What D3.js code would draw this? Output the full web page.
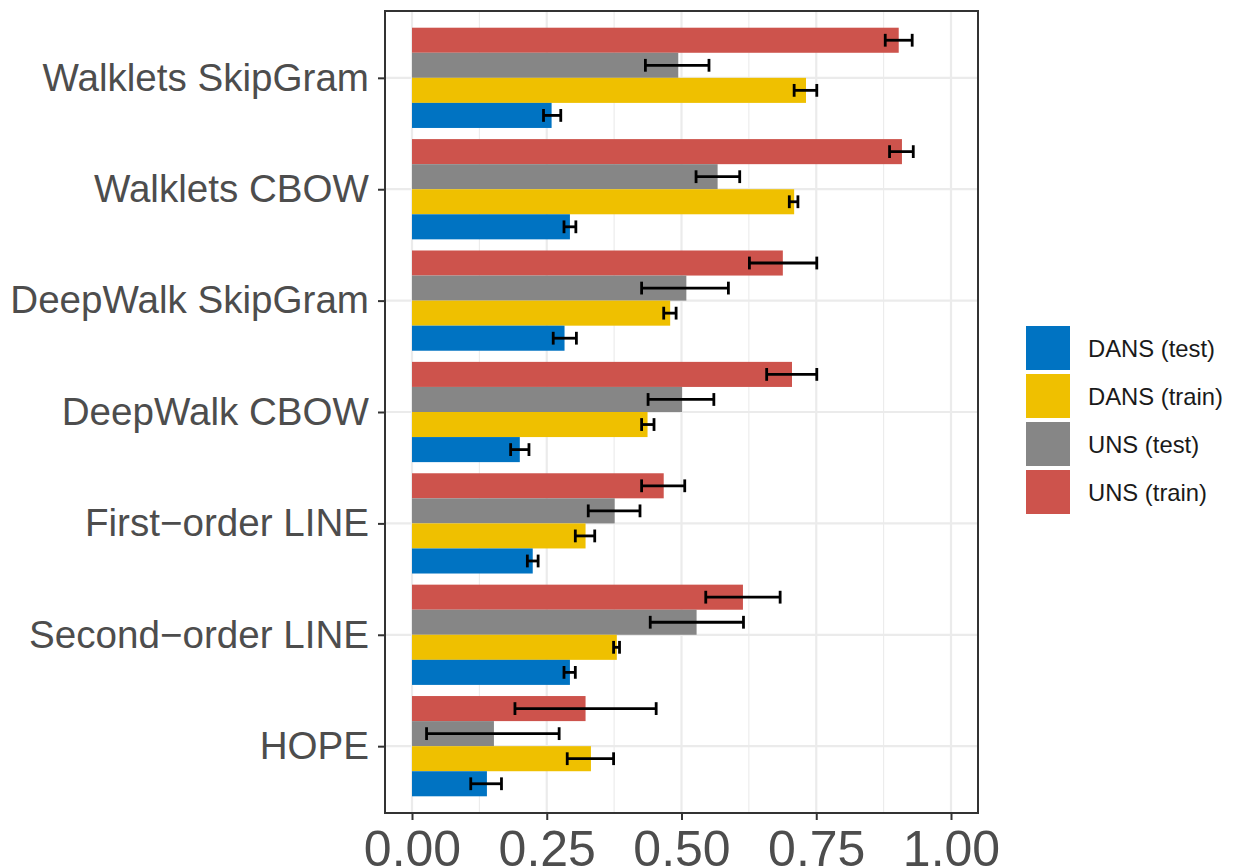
<!DOCTYPE html>
<html>
<head>
<meta charset="utf-8">
<script src="https://cdn.jsdelivr.net/npm/d3@7"></script>
<style>
  body { margin:0; background:#fff; }
  svg { display:block; font-family:"Liberation Sans", Arial, sans-serif; }
</style>
</head>
<body>
<svg></svg>
<script>
var methods = ["Walklets SkipGram","Walklets CBOW","DeepWalk SkipGram","DeepWalk CBOW","First\u2212order LINE","Second\u2212order LINE","HOPE"];

// bars inside a group, from top to bottom
var series = ["UNS (train)","UNS (test)","DANS (train)","DANS (test)"];
var legendOrder = ["DANS (test)","DANS (train)","UNS (test)","UNS (train)"];
var seriesColors = ["#CD534C","#868686","#EFC000","#0073C2"];

var unsTrain    = [0.903,0.909,0.688,0.705,0.467,0.614,0.322];
var unsTrainLo  = [0.878,0.886,0.626,0.658,0.426,0.545,0.191];
var unsTrainHi  = [0.928,0.930,0.751,0.751,0.506,0.683,0.453];

var unsTest     = [0.494,0.567,0.509,0.501,0.376,0.528,0.152];
var unsTestLo   = [0.433,0.527,0.426,0.438,0.327,0.442,0.027];
var unsTestHi   = [0.551,0.608,0.587,0.560,0.423,0.615,0.273];

var dansTrain   = [0.731,0.709,0.479,0.437,0.322,0.380,0.332];
var dansTrainLo = [0.709,0.700,0.467,0.426,0.303,0.374,0.288];
var dansTrainHi = [0.751,0.716,0.490,0.449,0.339,0.385,0.374];

var dansTest    = [0.259,0.293,0.283,0.200,0.224,0.293,0.139];
var dansTestLo  = [0.244,0.282,0.262,0.183,0.214,0.282,0.109];
var dansTestHi  = [0.276,0.304,0.305,0.217,0.234,0.303,0.166];

var xTicks = [0,0.25,0.5,0.75,1];
var xMinor = [0.125,0.375,0.625,0.875];

var drawGraph = function()
{
  var screen = {width:1234, height:868};
  var svg = d3.select("svg")
              .attr("width",screen.width)
              .attr("height",screen.height);

  var panel = {left:385, right:978, top:11, bottom:813};

  var vals = [unsTrain, unsTest, dansTrain, dansTest];
  var los  = [unsTrainLo, unsTestLo, dansTrainLo, dansTestLo];
  var his  = [unsTrainHi, unsTestHi, dansTrainHi, dansTestHi];

  var rows = [];
  methods.forEach(function(m,i)
  {
    series.forEach(function(s,j)
    {
      rows.push({method:m, series:s, value:vals[j][i], lo:los[j][i], hi:his[j][i]});
    });
  });

  // 0 sits at x=412, 1 at x=951 (ggplot expansion)
  var xScale = d3.scaleLinear()
            .domain([ (panel.left-412)/539, (panel.right-412)/539 ])
            .range([panel.left,panel.right]);

  var yScale = d3.scalePoint()
            .domain(methods)
            .range([panel.top,panel.bottom])
            .padding(0.6);
  var step = yScale.step();

  var inner = d3.scaleBand()
            .domain(series)
            .range([-0.45*step, 0.45*step]);

  var colors = d3.scaleOrdinal().domain(series).range(seriesColors);

  // grid
  var grid = svg.append("g").classed("grid",true);
  grid.selectAll("line.minor")
      .data(xMinor).enter().append("line")
      .attr("x1",function(d){return xScale(d)}).attr("x2",function(d){return xScale(d)})
      .attr("y1",panel.top).attr("y2",panel.bottom)
      .attr("stroke","#EBEBEB").attr("stroke-width",1.1);
  grid.selectAll("line.majorx")
      .data(xTicks).enter().append("line")
      .attr("x1",function(d){return xScale(d)}).attr("x2",function(d){return xScale(d)})
      .attr("y1",panel.top).attr("y2",panel.bottom)
      .attr("stroke","#EBEBEB").attr("stroke-width",2.2);
  grid.selectAll("line.majory")
      .data(methods).enter().append("line")
      .attr("x1",panel.left).attr("x2",panel.right)
      .attr("y1",function(d){return yScale(d)}).attr("y2",function(d){return yScale(d)})
      .attr("stroke","#EBEBEB").attr("stroke-width",2.2);

  // bars
  svg.append("g").classed("bars",true)
     .selectAll("rect")
     .data(rows).enter().append("rect")
     .attr("x",xScale(0))
     .attr("y",function(d){return yScale(d.method)+inner(d.series)})
     .attr("width",function(d){return xScale(d.value)-xScale(0)})
     .attr("height",inner.bandwidth())
     .attr("fill",function(d){return colors(d.series)});

  // error bars
  var err = svg.append("g").classed("errors",true)
     .selectAll("g")
     .data(rows).enter().append("g")
     .attr("transform",function(d)
        {return "translate(0,"+(yScale(d.method)+inner(d.series)+inner.bandwidth()/2)+")"});
  err.append("line")
     .attr("x1",function(d){return xScale(d.lo)}).attr("x2",function(d){return xScale(d.hi)})
     .attr("y1",0).attr("y2",0)
     .attr("stroke","#000").attr("stroke-width",2.8);
  err.append("line")
     .attr("x1",function(d){return xScale(d.lo)}).attr("x2",function(d){return xScale(d.lo)})
     .attr("y1",-6.4).attr("y2",6.4)
     .attr("stroke","#000").attr("stroke-width",2.8);
  err.append("line")
     .attr("x1",function(d){return xScale(d.hi)}).attr("x2",function(d){return xScale(d.hi)})
     .attr("y1",-6.4).attr("y2",6.4)
     .attr("stroke","#000").attr("stroke-width",2.8);

  // panel border
  svg.append("rect")
     .attr("x",panel.left).attr("y",panel.top)
     .attr("width",panel.right-panel.left).attr("height",panel.bottom-panel.top)
     .attr("fill","none").attr("stroke","#333333").attr("stroke-width",2);

  // axes
  var xAxis = d3.axisBottom(xScale)
               .tickValues(xTicks)
               .tickFormat(d3.format(".2f"))
               .tickSize(7)
               .tickPadding(10);
  var gx = svg.append("g").classed("xAxis",true)
      .attr("transform","translate(0,"+panel.bottom+")")
      .call(xAxis);
  gx.select(".domain").remove();
  gx.selectAll(".tick line").attr("stroke","#333333").attr("stroke-width",2);
  gx.selectAll(".tick text")
    .attr("font-size",50).attr("fill","#4D4D4D")
    .attr("font-family","Liberation Sans, Arial, sans-serif");

  var yAxis = d3.axisLeft(yScale)
               .tickSize(7)
               .tickPadding(9);
  var gy = svg.append("g").classed("yAxis",true)
      .attr("transform","translate("+panel.left+",0)")
      .call(yAxis);
  gy.select(".domain").remove();
  gy.selectAll(".tick line").attr("stroke","#333333").attr("stroke-width",2);
  gy.selectAll(".tick text")
    .attr("font-size",38.6).attr("fill","#4D4D4D")
    .attr("font-family","Liberation Sans, Arial, sans-serif");

  // legend
  var legend = svg.append("g")
                  .classed("legend",true)
                  .attr("transform","translate(1026,326)");
  var legendLines = legend.selectAll("g")
                  .data(legendOrder).enter().append("g")
                  .attr("transform",function(d,i){return "translate(0,"+(i*48)+")"});
  legendLines.append("rect")
        .attr("x",0).attr("y",0)
        .attr("width",44).attr("height",44)
        .attr("fill",function(d){return colors(d)});
  legendLines.append("text")
        .attr("x",62).attr("y",22)
        .attr("dy","0.36em")
        .attr("font-size",23.8)
        .attr("fill","#1A1A1A")
        .text(function(d){return d});
}

drawGraph();
</script>
</body>
</html>
